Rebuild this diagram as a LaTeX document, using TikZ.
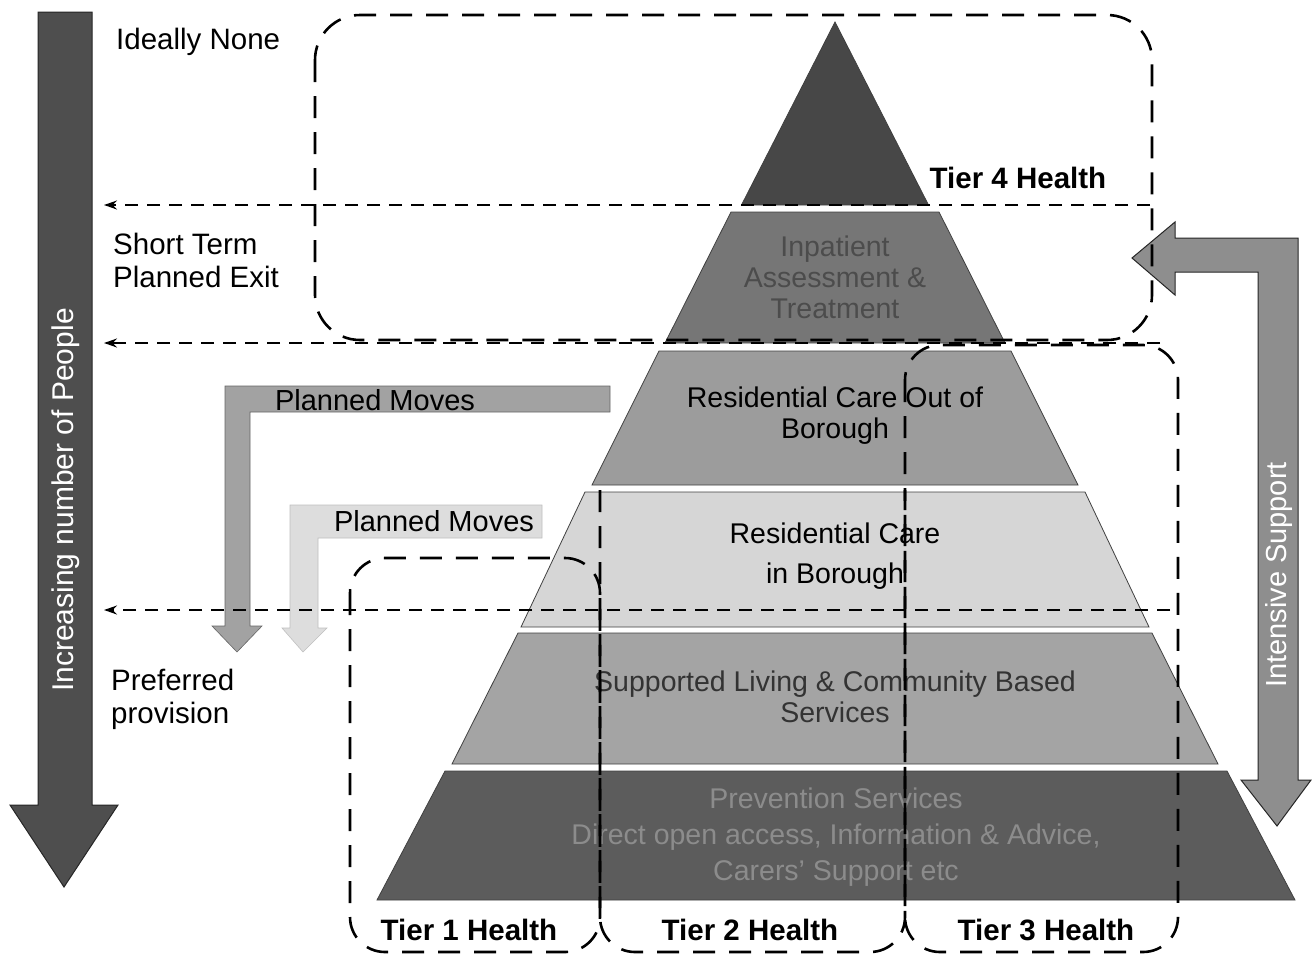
\documentclass[tikz,border=0pt]{standalone}
\usepackage{fontspec}
\setmainfont{Liberation Sans}
\usetikzlibrary{arrows.meta}
\definecolor{cone}{HTML}{474747}
\definecolor{ctwo}{HTML}{767676}
\definecolor{cthree}{HTML}{9C9C9C}
\definecolor{cfour}{HTML}{D6D6D6}
\definecolor{cfive}{HTML}{A4A4A4}
\definecolor{csix}{HTML}{5C5C5C}
\definecolor{cleft}{HTML}{4E4E4E}
\definecolor{cint}{HTML}{8E8E8E}
\definecolor{cpmone}{HTML}{A2A2A2}
\definecolor{cpmtwo}{HTML}{DDDDDD}
\begin{document}
\begin{tikzpicture}[x=1pt,y=-1pt,
  layer/.style={draw=black!75,line width=0.8},
  lbl/.style={inner sep=0pt,font=\fontsize{29.5}{33}\selectfont},
  plbl/.style={inner sep=0pt,align=center,font=\fontsize{28.5}{31}\selectfont},
  tierlbl/.style={inner sep=0pt,font=\fontsize{29.5}{33}\selectfont\bfseries},
  tbox/.style={draw=black,line width=2.6,dash pattern=on 22 off 14},
  harrow/.style={draw=black,line width=1.6,dash pattern=on 13 off 9,-{Stealth[length=13,width=9]}},
  bigarrow/.style={draw=black!85,line width=1}]
\useasboundingbox (0,0) rectangle (1312,956);

% Pyramid layers
\fill[cone,layer] (741.5,205) -- (835,22) -- (928.5,205) -- cycle;
\fill[ctwo,layer] (731,212) -- (939,212) -- (1005,343) -- (665,343) -- cycle;
\fill[cthree,layer] (659,351) -- (1011,351) -- (1078,485) -- (592,485) -- cycle;
\fill[cfour,layer] (585,492) -- (1085,492) -- (1149,627) -- (521,627) -- cycle;
\fill[cfive,layer] (518,633) -- (1152,633) -- (1218,764) -- (452,764) -- cycle;
\fill[csix,layer] (445,771) -- (1227,771) -- (1295,900) -- (377,900) -- cycle;

% Pyramid texts
\node[plbl,text=black!70] (inpat) at (835,277) {Inpatient\\Assessment \&\\Treatment};
\node[plbl,text=black] (rcout) at (835,416) {Residential Care Out of\\Borough};
\node[plbl,text=black,font=\fontsize{28.5}{40}\selectfont] (rcin) at (835,556) {Residential Care\\in Borough};
\node[plbl,text=black!80] (suppl) at (835,697) {Supported Living \& Community Based\\Services};
\node[plbl,text=black!45,font=\fontsize{28.5}{36}\selectfont] (prev) at (836,837) {Prevention Services\\Direct open access, Information \& Advice,\\Carers' Support etc};

% Left big arrow
\filldraw[fill=cleft,bigarrow] (38,12) -- (92,12) -- (92,805) -- (118,805) -- (64,887) -- (10,805) -- (38,805) -- cycle;
\node[lbl,text=white,rotate=90,font=\fontsize{30}{33}\selectfont] (incr) at (66,500) {Increasing number of People};

% Intensive support arrow
\filldraw[fill=cint,bigarrow] (1132,258) -- (1175,222) -- (1175,238) -- (1298,238) -- (1298,780) -- (1311,780) -- (1277,826) -- (1241,780) -- (1258,780) -- (1258,272) -- (1175,272) -- (1175,295) -- cycle;
\node[lbl,text=white,rotate=90,font=\fontsize{29}{31}\selectfont] (intens) at (1279,575) {Intensive Support};

% Planned moves arrows
\filldraw[fill=cpmone,draw=black!60,line width=0.6] (225,386) -- (610,386) -- (610,412) -- (250,412) -- (250,626) -- (262,626) -- (237,652) -- (212,626) -- (225,626) -- cycle;
\node[lbl,font=\fontsize{29}{31}\selectfont] (pm1) at (375,400) {Planned Moves};
\filldraw[fill=cpmtwo,draw=black!25,line width=0.6] (290,505) -- (542,505) -- (542,538) -- (318,538) -- (318,628) -- (327,628) -- (303,652) -- (282,628) -- (290,628) -- cycle;
\node[lbl,font=\fontsize{29}{31}\selectfont] (pm2) at (434,521) {Planned Moves};

% Left labels
\node[lbl,anchor=west] (ideal) at (116,42) {Ideally None};
\node[lbl,anchor=west,align=left] (short) at (113,260) {Short Term\\Planned Exit};
\node[lbl,anchor=west,align=left] (pref) at (111,699) {Preferred\\provision};

% Tier labels
\node[tierlbl] (t4) at (1018,178) {Tier 4 Health};
\node[tierlbl] (t1) at (469,930) {Tier 1 Health};
\node[tierlbl] (t2) at (750,930) {Tier 2 Health};
\node[tierlbl] (t3) at (1046,930) {Tier 3 Health};

% Dashed level arrows
\coordinate (s1) at (1150,205); \coordinate (e1) at (104,205);
\coordinate (s2) at (1160,343); \coordinate (e2) at (104,343);
\coordinate (s3) at (1170,610); \coordinate (e3) at (104,610);
\draw[harrow] (s1) -- (e1);
\draw[harrow] (s2) -- (e2);
\draw[harrow] (s3) -- (e3);

% Dashed tier boxes
\draw[tbox,rounded corners=45] (315,15) rectangle (1152,340);
\draw[tbox,rounded corners=35] (350,558) rectangle (600,952);
\draw[tbox,rounded corners=35] (600,490) -- (600,952) -- (905,952) -- (905,490);
\draw[tbox,rounded corners=35] (905,345) rectangle (1178,952);
\end{tikzpicture}
\end{document}
